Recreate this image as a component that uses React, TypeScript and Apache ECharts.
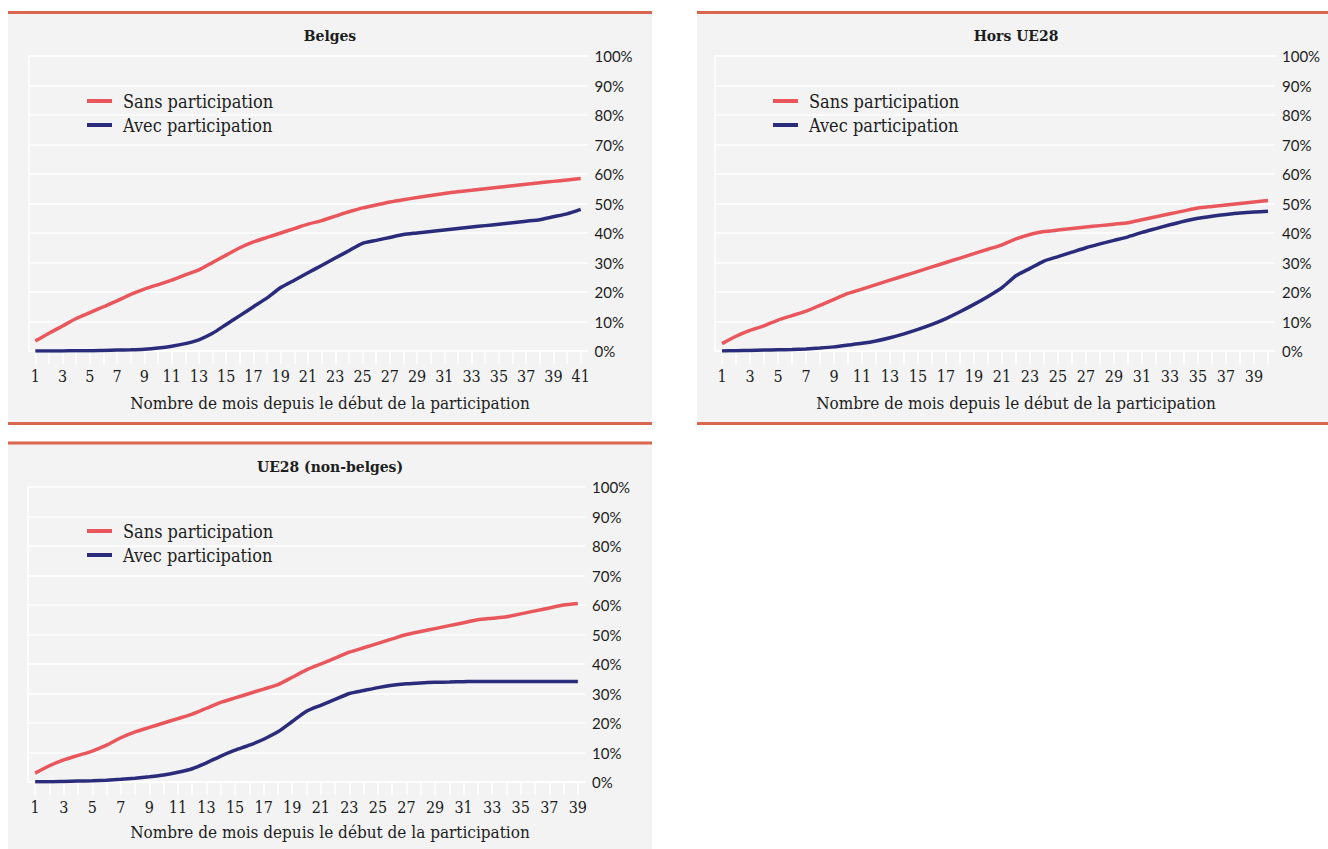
import React, { useEffect, useRef } from "react";
import * as echarts from "echarts";

const titles = ["Belges", "Hors UE28", "UE28 (non-belges)"];
const seriesNames = ["Sans participation", "Avec participation"];
const axisTitle = "Nombre de mois depuis le début de la participation";
const yTicks = [0, 10, 20, 30, 40, 50, 60, 70, 80, 90, 100];

const monthsBelges = ["1","2","3","4","5","6","7","8","9","10","11","12","13","14","15","16","17","18","19","20","21","22","23","24","25","26","27","28","29","30","31","32","33","34","35","36","37","38","39","40","41"];
const monthsHors = monthsBelges.slice(0, 40);
const monthsUE = monthsBelges.slice(0, 39);

const belgesSans = [3.4, 6, 8.5, 11, 13, 15, 17, 19.2, 21, 22.5, 24, 25.8, 27.5, 30, 32.5, 35, 37, 38.5, 40, 41.5, 43, 44.2, 45.7, 47.2, 48.5, 49.5, 50.5, 51.3, 52, 52.7, 53.4, 54, 54.5, 55, 55.5, 56, 56.5, 57, 57.5, 58, 58.5];
const belgesAvec = [0, 0, 0, 0.1, 0.1, 0.2, 0.3, 0.4, 0.6, 1, 1.6, 2.5, 3.8, 6, 9, 12, 15, 18, 21.5, 24, 26.5, 29, 31.5, 34, 36.5, 37.5, 38.5, 39.5, 40, 40.5, 41, 41.5, 42, 42.5, 43, 43.5, 44, 44.5, 45.5, 46.5, 48];

const horsSans = [2.5, 5, 7, 8.5, 10.5, 12, 13.5, 15.5, 17.5, 19.5, 21, 22.5, 24, 25.5, 27, 28.5, 30, 31.5, 33, 34.5, 36, 38, 39.5, 40.5, 41, 41.5, 42, 42.5, 43, 43.5, 44.5, 45.5, 46.5, 47.5, 48.5, 49, 49.5, 50, 50.5, 51];
const horsAvec = [0, 0.1, 0.2, 0.3, 0.4, 0.5, 0.7, 1, 1.4, 2, 2.6, 3.4, 4.5, 5.8, 7.3, 9, 11, 13.3, 15.8, 18.5, 21.5, 25.5, 28, 30.5, 32, 33.5, 35, 36.3, 37.5, 38.7, 40.2, 41.5, 42.8, 44, 45, 45.7, 46.3, 46.8, 47.1, 47.4];

const ueSans = [3, 5.5, 7.5, 9, 10.5, 12.5, 15, 17, 18.5, 20, 21.5, 23, 25, 27, 28.5, 30, 31.5, 33, 35.5, 38, 40, 42, 44, 45.5, 47, 48.5, 50, 51, 52, 53, 54, 55, 55.5, 56, 57, 58, 59, 60, 60.5];
const ueAvec = [0.1, 0.1, 0.2, 0.3, 0.4, 0.6, 0.9, 1.3, 1.8, 2.4, 3.3, 4.5, 6.5, 8.8, 10.8, 12.5, 14.5, 17, 20.5, 24, 26, 28, 30, 31, 32, 32.8, 33.3, 33.6, 33.8, 33.9, 34, 34.1, 34.1, 34.1, 34.1, 34.1, 34.1, 34.1, 34.1];

const RED = "#e9575c";
const NAVY = "#2b2b7b";
const BORDER = "#db6650";
const BG = "#f2f3f2";
const SERIF = '"DejaVu Serif Condensed", "DejaVu Serif", serif';
const SANS = 'Lato, "Noto Sans", sans-serif';
const TEXT = "#1d1d1d";

type Panel = {
  title: string;
  months: string[];
  sans: number[];
  avec: number[];
  box: { x: number; y: number; w: number; h: number; bottomLine: boolean };
  grid: { left: number; top: number; width: number; height: number };
  legend: { left: number; top: number };
  center: number;
  titleY: number;
  nameY: number;
};

const panels: Panel[] = [
  {
    title: titles[0], months: monthsBelges, sans: belgesSans, avec: belgesAvec,
    box: { x: 8, y: 11, w: 644, h: 414, bottomLine: true },
    grid: { left: 28.5, top: 56, width: 559, height: 295 },
    legend: { left: 87, top: 91 }, center: 330, titleY: 35, nameY: 403,
  },
  {
    title: titles[1], months: monthsHors, sans: horsSans, avec: horsAvec,
    box: { x: 697, y: 11, w: 631, h: 414, bottomLine: true },
    grid: { left: 715, top: 56, width: 560, height: 295 },
    legend: { left: 773, top: 91 }, center: 1016, titleY: 35, nameY: 403,
  },
  {
    title: titles[2], months: monthsUE, sans: ueSans, avec: ueAvec,
    box: { x: 8, y: 441.5, w: 644, h: 420, bottomLine: false },
    grid: { left: 28, top: 487, width: 557, height: 295 },
    legend: { left: 87, top: 521 }, center: 330, titleY: 466, nameY: 832,
  },
];

function buildOption() {
  const graphicEls: any[] = [];
  const grid: any[] = [];
  const xAxis: any[] = [];
  const yAxis: any[] = [];
  const series: any[] = [];
  const legend: any[] = [];
  const title: any[] = [];

  panels.forEach((p, i) => {
    graphicEls.push({ type: "rect", z: -10, shape: { x: p.box.x, y: p.box.y, width: p.box.w, height: p.box.h }, style: { fill: BG } });
    graphicEls.push({ type: "rect", z: -9, shape: { x: p.box.x, y: p.box.y, width: p.box.w, height: 3 }, style: { fill: BORDER } });
    if (p.box.bottomLine) {
      graphicEls.push({ type: "rect", z: -9, shape: { x: p.box.x, y: p.box.y + p.box.h - 3, width: p.box.w, height: 3 }, style: { fill: BORDER } });
    }
    grid.push({ left: p.grid.left, top: p.grid.top, width: p.grid.width, height: p.grid.height, containLabel: false });
    xAxis.push({
      type: "category", gridIndex: i, data: p.months, boundaryGap: true,
      axisLine: { show: true, lineStyle: { color: "#ffffff", width: 1.5 } },
      axisTick: { show: true, alignWithLabel: true, interval: 0, length: 13, lineStyle: { color: "#ffffff", width: 1.5 } },
      axisLabel: { interval: 1, margin: 17, color: TEXT, fontFamily: SERIF, fontSize: 16 },
      splitLine: { show: false },
    });
    yAxis.push({
      type: "value", gridIndex: i, position: "right", min: 0, max: 100, interval: 10,
      axisLine: { show: false }, axisTick: { show: false },
      axisLabel: { margin: 7, color: TEXT, fontFamily: SANS, fontSize: 15, formatter: (v: number) => (yTicks.includes(v) ? v + "%" : "") },
      splitLine: { show: true, lineStyle: { color: "#ffffff", width: 1.5 } },
    });
    yAxis.push({
      type: "value", gridIndex: i, position: "left", min: 0, max: 100, interval: 10,
      axisLine: { show: true, lineStyle: { color: "#ffffff", width: 1.5 } },
      axisTick: { show: false }, axisLabel: { show: false }, splitLine: { show: false },
    });
    series.push({
      type: "line", name: seriesNames[0], xAxisIndex: i, yAxisIndex: i * 2, data: p.sans,
      symbol: "none", smooth: 0.2, lineStyle: { color: RED, width: 3.5 }, itemStyle: { color: RED }, z: 3,
    });
    series.push({
      type: "line", name: seriesNames[1], xAxisIndex: i, yAxisIndex: i * 2, data: p.avec,
      symbol: "none", smooth: 0.2, lineStyle: { color: NAVY, width: 3.5 }, itemStyle: { color: NAVY }, z: 4,
    });
    legend.push({
      data: seriesNames, orient: "vertical", left: p.legend.left, top: p.legend.top,
      padding: 0, icon: "rect", itemWidth: 25, itemHeight: 4, itemGap: 4,
      textStyle: { color: TEXT, fontFamily: SERIF, fontSize: 18, lineHeight: 20, padding: [0, 0, 0, 6] },
      selectedMode: false,
    });
    title.push({
      text: p.title, left: p.center, top: p.titleY, textAlign: "center", textVerticalAlign: "middle", padding: 0,
      textStyle: { color: TEXT, fontFamily: SERIF, fontSize: 15.5, fontWeight: "bold" },
    });
    title.push({
      text: axisTitle, left: p.center, top: p.nameY, textAlign: "center", textVerticalAlign: "middle", padding: 0,
      textStyle: { color: TEXT, fontFamily: SERIF, fontSize: 17, fontWeight: "normal" },
    });
  });

  return {
    animation: false,
    backgroundColor: "#ffffff",
    graphic: { elements: graphicEls },
    title, legend, grid, xAxis, yAxis, series,
  };
}

export default function App() {
  const ref = useRef<HTMLDivElement>(null);
  useEffect(() => {
    if (!ref.current) return;
    const chart = echarts.init(ref.current, undefined, { renderer: "svg" });
    chart.setOption(buildOption() as any);
    return () => chart.dispose();
  }, []);
  return <div ref={ref} style={{ position: "absolute", left: 0, top: 0, width: 1328, height: 849 }} />;
}
